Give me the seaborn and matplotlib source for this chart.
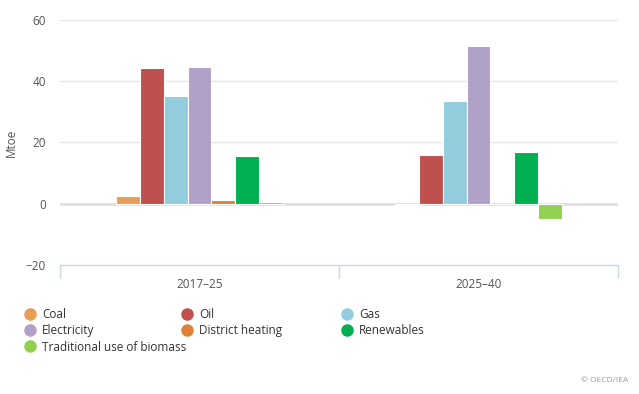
import pandas as pd
import matplotlib.pyplot as plt
import seaborn as sns
from matplotlib.lines import Line2D

# data (Mtoe)
periods = ['2017\u201325', '2025\u201340']
fuels = ['Coal', 'Oil', 'Gas', 'Electricity', 'District heating',
         'Renewables', 'Traditional use of biomass']
values_2017_25 = [2.5, 44.2, 35.3, 44.5, 1.2, 15.6, 0.6]
values_2025_40 = [-0.4, 16.0, 33.4, 51.4, 0.0, 17.0, -5.0]
colors = ['#EB9C55', '#C0504D', '#93CDDD', '#B1A0C7', '#E0813A', '#00B050', '#92D050']

rows = []
for p, vals in zip(periods, [values_2017_25, values_2025_40]):
    for f, v in zip(fuels, vals):
        rows.append({'period': p, 'fuel': f, 'value': v})
df = pd.DataFrame(rows)

sns.set_style('white')
plt.rcParams['font.family'] = ['Open Sans', 'DejaVu Sans']

fig = plt.figure(figsize=(6.39, 3.94), dpi=100)
ax = fig.add_axes([60 / 639, 1 - 265 / 394, 558 / 639, 245 / 394])

sns.barplot(data=df, x='period', y='value', hue='fuel', hue_order=fuels,
            palette=colors, width=0.6, edgecolor='white', linewidth=0.8,
            saturation=1, legend=False, ax=ax, zorder=3)

ax.set_ylim(-20, 60)
ax.set_xlim(-0.5, 1.5)
ax.set_yticks([-20, 0, 20, 40, 60])
for y in [20, 40, 60]:
    ax.axhline(y, color='#e6e6e6', lw=1, zorder=0)
ax.axhline(0, color='#e0e0e0', lw=2, zorder=1)

for s in ['top', 'right', 'left']:
    ax.spines[s].set_visible(False)
ax.spines['bottom'].set_color('#ccd6eb')
ax.spines['bottom'].set_linewidth(1)

ax.set_xticks([-0.5, 0.5, 1.5], minor=True)
ax.tick_params(axis='x', which='minor', bottom=True, length=9, color='#ccd6eb', width=1)
ax.tick_params(axis='x', which='major', length=0, pad=9, labelsize=8.5, labelcolor='#555555')
ax.tick_params(axis='y', length=0, pad=10, labelsize=8.5, labelcolor='#555555')

ax.set_xlabel('')
ax.set_ylabel('Mtoe', fontsize=8.5, color='#555555')
ax.yaxis.set_label_coords(-42 / 558, 0.5)

# legend: three columns laid out like the original
cols = [[0, 3, 6], [1, 4], [2, 5]]
xs = [17 / 639, 174 / 639, 334 / 639]
for xpos, idx in zip(xs, cols):
    handles = [Line2D([], [], marker='o', ls='', markersize=8,
                      markerfacecolor=colors[i], markeredgecolor=colors[i]) for i in idx]
    fig.legend(handles, [fuels[i] for i in idx], loc='upper left',
               bbox_to_anchor=(xpos, 1 - 302 / 394), frameon=False,
               fontsize=8.5, handletextpad=0.4, labelspacing=0.28,
               borderpad=0, handlelength=1.2, labelcolor='#333333')

fig.text(628 / 639, 1 - 381 / 394, '\u00a9 OECD/IEA', ha='right', va='center',
         fontsize=6, color='#999999')

fig.savefig('out.png', dpi=100)
